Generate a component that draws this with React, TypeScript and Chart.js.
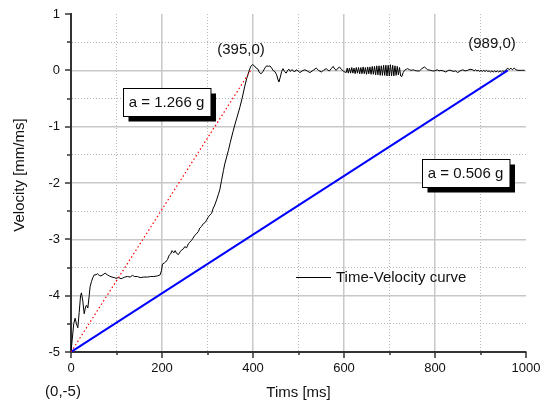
import React, { useEffect, useRef } from "react";
import { Chart, registerables } from "chart.js";

Chart.register(...registerables);

// ---- Data ----
const timeMs: number[] = [
  0, 3, 6, 9, 12, 15, 18, 21, 23, 26, 29, 32, 34, 37, 40, 42, 45, 48, 51, 55,
  58, 62, 66, 70, 75, 80, 84, 90, 95, 99, 105, 110, 113, 118, 124, 130, 135, 140, 146, 152,
  160, 168, 175, 182, 190, 196, 199, 201, 205, 208, 212, 216, 219, 222, 226, 229, 232, 236, 240, 243,
  247, 250, 254, 258, 261, 265, 268, 272, 276, 280, 283, 287, 291, 295, 298, 302, 305, 309, 312, 316,
  320, 324, 327, 331, 335, 338, 342, 346, 350, 356, 360, 365, 371, 376, 382, 386, 391, 395, 399, 403,
  407, 411, 414, 418, 422, 426, 430, 434, 437, 441, 445, 448, 452, 455, 457, 460, 463, 466, 469, 473,
  476, 479, 482, 485, 488, 491, 495, 499, 503, 508, 514, 519, 525, 532, 539, 544, 550, 555, 561, 565,
  568, 572, 576, 580, 583, 587, 590, 594, 598, 602, 605, 607, 609.5, 612, 614.5, 617, 619.5, 622, 624.5, 627,
  629.5, 632, 634.5, 637, 639.5, 642, 644.5, 647, 649.5, 652, 654.5, 657, 659.5, 662, 664.5, 667, 669.5, 672, 674.5, 677,
  679.5, 682, 684.5, 687, 689.5, 692, 694.5, 697, 699.5, 702, 704.5, 707, 709.5, 712, 714.5, 717, 719.5, 722, 724.5, 727,
  730, 733, 737, 740, 744, 748, 752, 755, 760, 766, 771, 777, 781, 784, 790, 795, 799, 805, 809, 813,
  818, 824, 829, 835, 840, 845, 850, 855, 861, 866, 872, 877, 883, 886, 889, 892, 895, 898, 901, 904,
  907, 910, 913, 916, 919, 922, 925, 928, 931, 934, 937, 940, 943, 946, 949, 952, 956, 960, 963, 967,
  970, 974, 978, 982, 990, 997,
];
const velocity: number[] = [
  -5.0, -4.75, -4.5, -4.4, -4.5, -4.57, -4.3, -4.0, -3.95, -4.1, -4.32, -4.2, -4.17, -4.22, -4.0, -3.84, -3.75, -3.68, -3.63, -3.63,
  -3.61, -3.64, -3.65, -3.63, -3.6, -3.63, -3.65, -3.67, -3.68, -3.69, -3.68, -3.7, -3.69, -3.67, -3.66, -3.67, -3.64, -3.66, -3.66, -3.68,
  -3.67, -3.67, -3.66, -3.66, -3.65, -3.63, -3.55, -3.44, -3.42, -3.4, -3.36, -3.28, -3.26, -3.2, -3.24, -3.2, -3.25, -3.27, -3.22, -3.19,
  -3.17, -3.13, -3.15, -3.08, -3.05, -3.02, -2.98, -2.93, -2.9, -2.86, -2.8, -2.77, -2.72, -2.7, -2.66, -2.6, -2.57, -2.54, -2.46, -2.39,
  -2.3, -2.2, -2.12, -1.95, -1.78, -1.66, -1.54, -1.42, -1.28, -1.09, -0.97, -0.83, -0.66, -0.5, -0.28, -0.15, -0.02, 0.07, 0.1, 0.08,
  0.04, 0.02, -0.04, -0.06, -0.02, 0.04, 0.08, 0.07, 0.08, 0.04, -0.01, -0.02, -0.08, -0.17, -0.2, -0.12, -0.02, 0.03, -0.02, -0.05,
  0.0, 0.02, -0.02, 0.01, 0.0, -0.03, 0.01, -0.01, -0.04, -0.01, 0.01, -0.01, -0.04, 0.0, 0.04, 0.0, -0.03, 0.0, 0.03, 0.0,
  -0.01, 0.03, 0.07, 0.02, 0.0, 0.04, 0.06, 0.02, -0.01, -0.03, -0.04, 0.04, -0.05, 0.04, -0.05, 0.05, -0.05, 0.04, -0.06, 0.05,
  -0.05, 0.05, -0.06, 0.05, -0.06, 0.06, -0.06, 0.05, -0.07, 0.06, -0.06, 0.06, -0.07, 0.07, -0.07, 0.07, -0.08, 0.08, -0.08, 0.08,
  -0.09, 0.08, -0.09, 0.09, -0.09, 0.09, -0.1, 0.09, -0.1, 0.1, -0.1, 0.09, -0.1, 0.08, -0.09, 0.07, -0.08, 0.05, -0.1, -0.11,
  -0.04, 0.0, 0.02, 0.03, 0.01, 0.0, 0.01, 0.0, -0.01, -0.01, 0.03, 0.06, 0.03, 0.01, 0.0, -0.01, -0.01, 0.01, -0.01, 0.0,
  -0.01, -0.03, 0.0, 0.0, -0.02, -0.01, -0.04, -0.01, 0.01, -0.01, 0.0, 0.02, 0.01, -0.01, 0.01, -0.01, 0.0, -0.02, 0.0, -0.02,
  0.0, -0.02, 0.0, -0.02, -0.01, -0.03, -0.01, -0.03, -0.01, -0.03, -0.01, -0.03, -0.01, -0.03, -0.01, -0.02, 0.01, 0.04, 0.01, 0.04,
  0.01, 0.04, 0.01, 0.0, 0.0, 0.0,
];
const steepFitX: number[] = [0, 395];
const steepFitY: number[] = [-5, 0];
const shallowFitX: number[] = [0, 960];
const shallowFitY: number[] = [-5, 0];

const xMin = 0, xMax = 1000, xStep = 100, xLabelEvery = 200;
const yMin = -5, yMax = 1, yStep = 0.5;

const seriesLabel = "Time-Velocity curve";
const xTitle = "Tims [ms]";
const yTitle = "Velocity [mm/ms]";
const steepLabel = "a = 1.266 g";
const shallowLabel = "a = 0.506 g";
const pointLabels = ["(395,0)", "(989,0)", "(0,-5)"];

const FONT = "'Liberation Sans', Arial, sans-serif";

const toXY = (xs: number[], ys: number[]) => xs.map((x, i) => ({ x, y: ys[i] }));

const decoPlugin = {
  id: "deco",
  afterDraw(chart: any) {
    const { ctx, chartArea } = chart;
    const xs = chart.scales.x;
    const ys = chart.scales.y;
    ctx.save();
    // tick marks
    ctx.strokeStyle = "#333";
    ctx.lineWidth = 1.5;
    ctx.beginPath();
    for (const t of xs.ticks) {
      const px = Math.round(xs.getPixelForValue(t.value));
      const len = t.value % xLabelEvery === 0 ? 6 : 3;
      ctx.moveTo(px, chartArea.bottom);
      ctx.lineTo(px, chartArea.bottom + len);
    }
    for (const t of ys.ticks) {
      const py = Math.round(ys.getPixelForValue(t.value));
      const len = Number.isInteger(t.value) ? 6 : 4;
      ctx.moveTo(chartArea.left, py);
      ctx.lineTo(chartArea.left - len, py);
    }
    ctx.stroke();

    // y title
    ctx.fillStyle = "#111";
    ctx.font = `15px ${FONT}`;
    ctx.textAlign = "center";
    ctx.textBaseline = "middle";
    ctx.save();
    ctx.translate(20, 175);
    ctx.rotate(-Math.PI / 2);
    ctx.fillText(yTitle, 0, 0);
    ctx.restore();

    // point labels
    ctx.fillText(pointLabels[0], 241, 50);
    ctx.fillText(pointLabels[1], 492, 44);
    ctx.fillText(pointLabels[2], 63, 392);

    // boxed labels
    const box = (cx: number, cy: number, text: string) => {
      const w = ctx.measureText(text).width + 12;
      const h = 28;
      const l = Math.round(cx - w / 2) + 0.5;
      const t = Math.round(cy - h / 2) + 0.5;
      ctx.fillStyle = "#000";
      ctx.fillRect(l + 5, t + 5, w, h);
      ctx.fillStyle = "#fff";
      ctx.fillRect(l, t, w, h);
      ctx.strokeStyle = "#000";
      ctx.lineWidth = 1;
      ctx.strokeRect(l, t, w, h);
      ctx.fillStyle = "#111";
      ctx.fillText(text, cx, cy + 1);
    };
    box(166.5, 102, steepLabel);
    box(465.5, 173, shallowLabel);

    // legend
    ctx.strokeStyle = "#000";
    ctx.lineWidth = 1;
    ctx.beginPath();
    ctx.moveTo(296, 277.5);
    ctx.lineTo(331, 277.5);
    ctx.stroke();
    ctx.fillStyle = "#111";
    ctx.textAlign = "left";
    ctx.fillText(seriesLabel, 336, 278);
    ctx.restore();
  },
};

export default function App() {
  const ref = useRef<HTMLCanvasElement | null>(null);
  useEffect(() => {
    document.body.style.margin = "0";
    if (!ref.current) return;
    const chart = new Chart(ref.current, {
      type: "line",
      data: {
        datasets: [
          {
            label: "steep",
            data: toXY(steepFitX, steepFitY),
            borderColor: "#ff0000",
            borderWidth: 1.2,
            borderDash: [1.5, 2.5],
            pointRadius: 0,
            tension: 0,
          },
          {
            label: "shallow",
            data: toXY(shallowFitX, shallowFitY),
            borderColor: "#0000ff",
            borderWidth: 2,
            pointRadius: 0,
            tension: 0,
          },
          {
            label: seriesLabel,
            data: toXY(timeMs, velocity),
            borderColor: "#000",
            borderWidth: 1,
            pointRadius: 0,
            tension: 0,
          },
        ],
      },
      options: {
        responsive: false,
        animation: false,
        devicePixelRatio: 1,
        layout: { padding: { left: 0, right: 26, top: 14, bottom: 0 } },
        plugins: { legend: { display: false }, tooltip: { enabled: false } },
        scales: {
          x: {
            type: "linear",
            min: xMin,
            max: xMax,
            afterFit: (s: any) => { s.height = 50; },
            ticks: {
              stepSize: xStep,
              autoSkip: false,
              maxRotation: 0,
              padding: 3,
              color: "#111",
              font: { family: FONT, size: 13 },
              callback: (v: any) => (Number(v) % xLabelEvery === 0 ? String(v) : ""),
            },
            grid: {
              color: (c: any) => {
                const v = c.tick ? c.tick.value : null;
                if (v === null || v === xMin || v === xMax) return "rgba(0,0,0,0)";
                return v % xLabelEvery === 0 ? "#c8c8c8" : "#b8b8b8";
              },
              lineWidth: (c: any) => (c.tick && c.tick.value % xLabelEvery === 0 ? 1.5 : 1),
              drawTicks: true,
              tickLength: 6,
              tickColor: "rgba(0,0,0,0)",
            },
            border: {
              color: "#333",
              width: 2,
              dash: (c: any) => (c.tick && c.tick.value % xLabelEvery !== 0 ? [1, 2] : []),
            },
            title: {
              display: true,
              text: xTitle,
              color: "#111",
              font: { family: FONT, size: 15 },
              padding: { top: 0, bottom: 0 },
            },
          },
          y: {
            type: "linear",
            min: yMin,
            max: yMax,
            afterFit: (s: any) => { s.width = 71; },
            ticks: {
              stepSize: yStep,
              autoSkip: false,
              padding: 5,
              color: "#111",
              font: { family: FONT, size: 13 },
              callback: (v: any) => (Number.isInteger(Number(v)) ? String(v) : ""),
            },
            grid: {
              color: (c: any) => {
                const v = c.tick ? c.tick.value : null;
                if (v === null || v === yMin || v === yMax) return "rgba(0,0,0,0)";
                return Number.isInteger(v) ? "#c8c8c8" : "#b8b8b8";
              },
              lineWidth: (c: any) => (c.tick && Number.isInteger(c.tick.value) ? 1.5 : 1),
              drawTicks: true,
              tickLength: 6,
              tickColor: "rgba(0,0,0,0)",
            },
            border: {
              color: "#333",
              width: 2,
              dash: (c: any) => (c.tick && !Number.isInteger(c.tick.value) ? [1, 2] : []),
            },
          },
        },
      },
      plugins: [decoPlugin],
    } as any);
    return () => chart.destroy();
  }, []);
  return (
    <div style={{ width: 552, height: 402, background: "#fff" }}>
      <canvas ref={ref} width={552} height={402} />
    </div>
  );
}
